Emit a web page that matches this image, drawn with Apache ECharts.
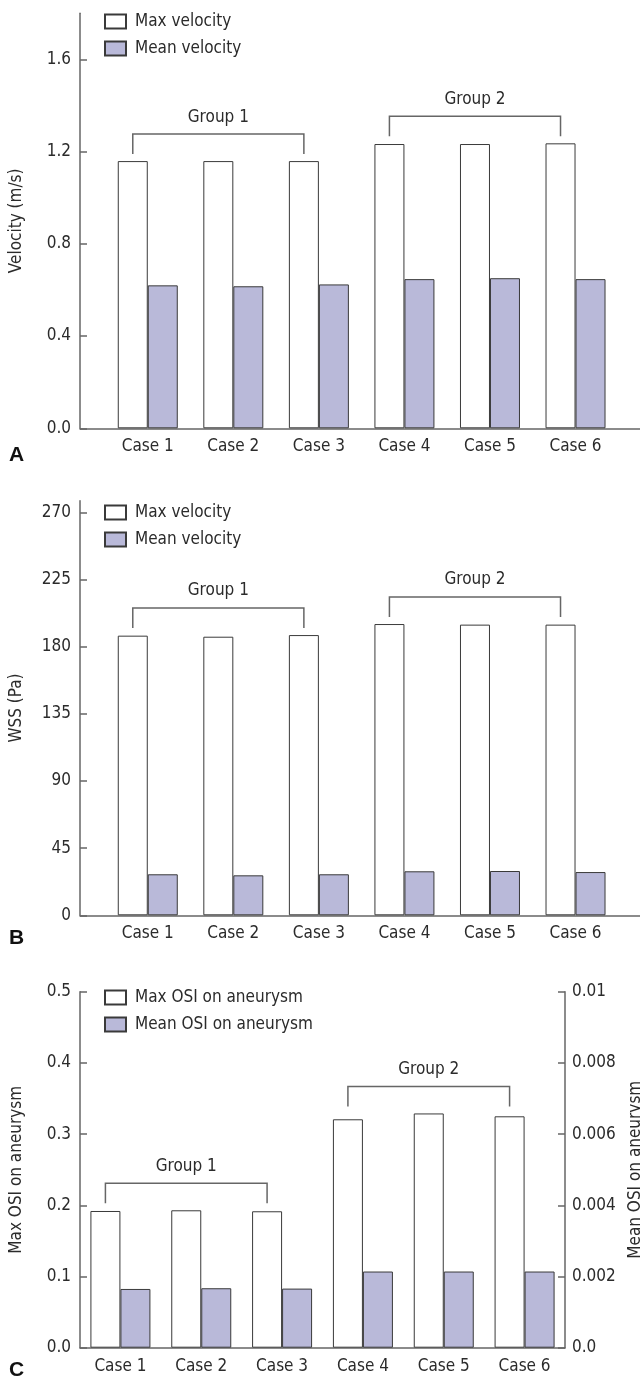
<!DOCTYPE html>
<html><head><meta charset="utf-8">
<script src="https://cdn.jsdelivr.net/npm/echarts@6/dist/echarts.min.js"></script>
<style>html,body{margin:0;padding:0;background:#fff}#c{width:640px;height:1381px}</style>
</head><body><div id="c"></div>
<script>
const categories = ['Case 1', 'Case 2', 'Case 3', 'Case 4', 'Case 5', 'Case 6'];
const maxVelocity = [1.159, 1.159, 1.159, 1.233, 1.233, 1.236];
const meanVelocity = [0.620, 0.616, 0.624, 0.647, 0.651, 0.647];
const maxWss = [187.5, 186.8, 187.9, 195.3, 194.9, 194.9];
const meanWss = [27.5, 26.8, 27.5, 29.5, 29.7, 29.0];
const maxOsi = [0.192, 0.193, 0.1916, 0.3208, 0.329, 0.325];
const meanOsi = [0.00165, 0.00167, 0.00166, 0.00214, 0.00214, 0.00214];
const groupNames = ['Group 1', 'Group 2'];
const groupStart = [0, 3];
const groupEnd = [2, 5];
const velocityTicks = [0, 0.4, 0.8, 1.2, 1.6];
const wssTicks = [0, 45, 90, 135, 180, 225, 270];
const maxOsiTicks = [0, 0.1, 0.2, 0.3, 0.4, 0.5];
const meanOsiTicks = [0, 0.002, 0.004, 0.006, 0.008, 0.01];
const panelLetters = ['A', 'B', 'C'];

const FONT = '"DejaVu Sans Condensed", "Liberation Sans Narrow", sans-serif';
const TXT = '#2b2b2b';
const AXC = '#666';
const FS = 17;
const PURPLE = '#b9b9d9';
const BORDER = '#3a3a3a';
const BARW = 30;

const chart = echarts.init(document.getElementById('c'));

function valueYAxis(gridIndex, opts) {
  return Object.assign({
    gridIndex, type: 'value', min: 0,
    axisLine: { show: true, lineStyle: { color: AXC, width: 1.5 } },
    axisTick: { show: true, inside: true, length: 7, lineStyle: { color: AXC, width: 1.5 } },
    axisLabel: { color: TXT, fontSize: FS, fontFamily: FONT, margin: 9 },
    splitLine: { show: false },
    nameLocation: 'middle', nameRotate: 90,
    nameTextStyle: { color: TXT, fontSize: FS, fontFamily: FONT }
  }, opts);
}
function catXAxis(gridIndex, showLine) {
  return {
    gridIndex, type: 'category', data: categories,
    axisLine: { show: showLine, lineStyle: { color: AXC, width: 1.5 } },
    axisTick: { show: false },
    axisLabel: { color: TXT, fontSize: FS, fontFamily: FONT, margin: 10, interval: 0 },
    splitLine: { show: false }
  };
}
function barSeries(name, data, xi, yi, purple) {
  return {
    name, type: 'bar', data, xAxisIndex: xi, yAxisIndex: yi,
    barWidth: BARW, barGap: '0%',
    itemStyle: { color: purple ? PURPLE : '#fff', borderColor: BORDER, borderWidth: 1 },
    emphasis: { disabled: true }, animation: false
  };
}
function bracketSeries(xi, yi, maxArr) {
  const data = groupNames.map((n, i) => [groupStart[i], groupEnd[i],
    Math.max(...maxArr.slice(groupStart[i], groupEnd[i] + 1))]);
  return {
    type: 'custom', xAxisIndex: xi, yAxisIndex: yi, clip: false, animation: false,
    encode: { x: [0, 1], y: 2 }, data,
    renderItem(params, api) {
      const a = api.coord([api.value(0), api.value(2)]);
      const b = api.coord([api.value(1), api.value(2)]);
      const x1 = a[0] - BARW / 2, x2 = b[0] - BARW / 2, y = a[1];
      return {
        type: 'group', children: [
          { type: 'polyline', shape: { points: [[x1, y - 7], [x1, y - 27], [x2, y - 27], [x2, y - 7]] },
            style: { stroke: AXC, fill: null, lineWidth: 1.5 } },
          { type: 'text', style: { text: groupNames[params.dataIndex], x: (x1 + x2) / 2, y: y - 44,
            align: 'center', verticalAlign: 'middle', fill: TXT, fontSize: FS, fontFamily: FONT } }
        ]
      };
    }
  };
}
function legend(top, names) {
  return {
    orient: 'vertical', left: 104, top, padding: 0, itemWidth: 21, itemHeight: 14, itemGap: 10,
    icon: 'rect', selectedMode: false, data: names,
    textStyle: { color: TXT, fontSize: FS, fontFamily: FONT, lineHeight: 14, padding: [0, 0, 0, 4] }
  };
}
function grid(left, right, top, bottom) {
  return { left, right, top, bottom, containLabel: false, outerBoundsMode: 'none' };
}
const fmt1 = v => v.toFixed(1);
const fmtOsi = v => v === 0 ? '0.0' : String(+v.toFixed(3));

const option = {
  backgroundColor: '#fff',
  animation: false,
  grid: [
    grid(105, 21.7, 13.3, 952.7),
    grid(80, 0, 13.3, 952.7),
    grid(105, 21.7, 500.7, 465.7),
    grid(80, 0, 500.7, 465.7),
    grid(80, 75, 991.7, 33.3)
  ],
  legend: [
    legend(13, ['Max velocity', 'Mean velocity']),
    legend(504, ['Max velocity', 'Mean velocity']),
    legend(989, ['Max OSI on aneurysm', 'Mean OSI on aneurysm'])
  ],
  xAxis: [
    catXAxis(0, false),
    { gridIndex: 1, type: 'value', axisLine: { show: true, lineStyle: { color: AXC, width: 1.5 } },
      axisTick: { show: false }, axisLabel: { show: false }, splitLine: { show: false } },
    catXAxis(2, false),
    { gridIndex: 3, type: 'value', axisLine: { show: true, lineStyle: { color: AXC, width: 1.5 } },
      axisTick: { show: false }, axisLabel: { show: false }, splitLine: { show: false } },
    catXAxis(4, true)
  ],
  yAxis: [
    valueYAxis(0, { max: 1.8, offset: 25, name: 'Velocity (m/s)', nameGap: 55,
      axisTick: { show: true, inside: true, length: 7, lineStyle: { color: AXC, width: 1.5 }, customValues: velocityTicks },
      axisLabel: { color: TXT, fontSize: FS, fontFamily: FONT, margin: 9, customValues: velocityTicks, formatter: fmt1 } }),
    { gridIndex: 1, type: 'value', show: false },
    valueYAxis(2, { max: 278, offset: 25, name: 'WSS (Pa)', nameGap: 55,
      axisTick: { show: true, inside: true, length: 7, lineStyle: { color: AXC, width: 1.5 }, customValues: wssTicks },
      axisLabel: { color: TXT, fontSize: FS, fontFamily: FONT, margin: 9, customValues: wssTicks } }),
    { gridIndex: 3, type: 'value', show: false },
    valueYAxis(4, { max: 0.5, interval: 0.1, name: 'Max OSI on aneurysm', nameGap: 55,
      axisTick: { show: true, inside: true, length: 7, lineStyle: { color: AXC, width: 1.5 }, customValues: maxOsiTicks },
      axisLabel: { color: TXT, fontSize: FS, fontFamily: FONT, margin: 9, customValues: maxOsiTicks, formatter: fmt1 } }),
    valueYAxis(4, { max: 0.01, interval: 0.002, position: 'right', name: 'Mean OSI on aneurysm', nameGap: 59,
      axisTick: { show: true, inside: true, length: 7, lineStyle: { color: AXC, width: 1.5 }, customValues: meanOsiTicks },
      axisLabel: { color: TXT, fontSize: FS, fontFamily: FONT, margin: 7, customValues: meanOsiTicks, formatter: fmtOsi } })
  ],
  series: [
    barSeries('Max velocity', maxVelocity, 0, 0, false),
    barSeries('Mean velocity', meanVelocity, 0, 0, true),
    bracketSeries(0, 0, maxVelocity),
    barSeries('Max velocity', maxWss, 2, 2, false),
    barSeries('Mean velocity', meanWss, 2, 2, true),
    bracketSeries(2, 2, maxWss),
    barSeries('Max OSI on aneurysm', maxOsi, 4, 4, false),
    barSeries('Mean OSI on aneurysm', meanOsi, 4, 5, true),
    bracketSeries(4, 4, maxOsi)
  ],
  graphic: panelLetters.map((t, i) => ({
    type: 'text', left: 9, top: [445, 928, 1360][i],
    style: { text: t, fontSize: 21, fontWeight: 'bold', fontFamily: '"Liberation Sans", Arial, sans-serif', fill: '#111' }
  }))
};
chart.setOption(option);
</script></body></html>
